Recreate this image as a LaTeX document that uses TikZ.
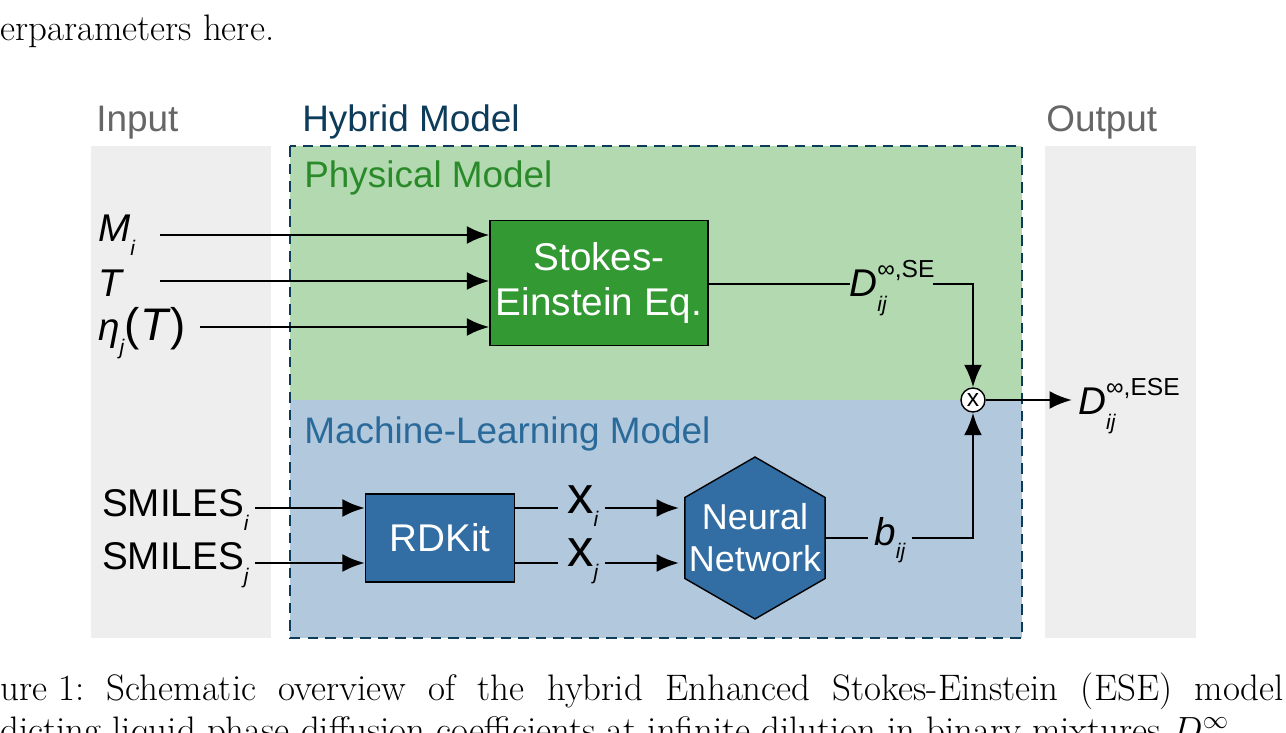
\documentclass[tikz,border=0pt]{standalone}
\usepackage{fontspec}
\setmainfont{Latin Modern Roman}
\newfontfamily\diagfont{Liberation Sans}
\usetikzlibrary{arrows.meta,shapes.geometric,positioning}
\definecolor{hybridblue}{HTML}{0D3B5A}
\definecolor{physgreen}{HTML}{B2D9B0}
\definecolor{mlblue}{HTML}{B2C8DD}
\definecolor{boxgreen}{HTML}{339933}
\definecolor{boxblue}{HTML}{326EA3}
\definecolor{titlegreen}{HTML}{2A8A2A}
\definecolor{titleblue}{HTML}{2A6A9A}
\newcommand{\dsub}[2]{\textit{#1}\raisebox{-0.35em}{\fontsize{12}{12}\selectfont\textit{#2}}}
\newcommand{\dcoef}[1]{\textit{D}\makebox[0pt][l]{\raisebox{-0.4em}{\fontsize{12}{12}\selectfont\textit{ij}}}\raisebox{0.5em}{\fontsize{14}{14}\selectfont ∞,#1}}
\begin{document}
\begin{tikzpicture}[x=0.02cm,y=-0.02cm,
    every node/.style={font=\diagfont\fontsize{22}{26}\selectfont},
    title/.style={anchor=base west, inner sep=0, font=\diagfont\fontsize{21}{25}\selectfont},
    block/.style={draw, thick, rectangle, text=white, align=center},
    arr/.style={-{Latex[length=4.5mm,width=3.6mm]}, line width=1.5pt},
    wire/.style={line width=1.1pt}]
    \useasboundingbox (0,0) rectangle (1286,733);
    % surrounding page text
    \node[anchor=base west, inner sep=0, font=\fontsize{21}{24}\selectfont] at (0,41) {erparameters here.};
    \node[anchor=base west, inner sep=0, font=\fontsize{21}{24}\selectfont] at (0,700)
        {ure 1:\ \ Schematic \ overview \ of \ the \ hybrid \ Enhanced \ Stokes-Einstein \ (ESE) \ model};
    \node[anchor=base west, inner sep=0, font=\fontsize{21}{24}\selectfont] at (0,742)
        {dicting liquid-phase diffusion coefficients at infinite dilution in binary mixtures $D^\infty_{ij}$};

    % background panels
    \fill[gray!13] (91,146) rectangle (271,638);
    \fill[gray!13] (1045,146) rectangle (1196,638);
    \fill[physgreen] (290,146) rectangle (1022,400);
    \fill[mlblue] (290,400) rectangle (1022,638);
    \draw[hybridblue, line width=1.5pt, dash pattern=on 6pt off 4pt] (290,146) rectangle (1022,638);

    % titles
    \node[title, text=gray!80!black] at (96,132) {Input};
    \node[title, text=hybridblue] at (302,132) {Hybrid Model};
    \node[title, text=gray!80!black] at (1046,132) {Output};
    \node[title, text=titlegreen] at (304,188) {Physical Model};
    \node[title, text=titleblue] at (304,443) {Machine-Learning Model};

    % physical model
    \node[block, fill=boxgreen, minimum width=4.28cm, minimum height=2.5cm] (stokes) at (599,283) {Stokes-\\Einstein Eq.};
    \node[anchor=west] (mi) at (92,235) {\dsub{M}{i}};
    \node[anchor=west] (temp) at (92,283) {\textit{T}};
    \node[anchor=west] (eta) at (92,333) {\dsub{η}{j}\fontsize{26}{26}\selectfont(\textit{T})};
    \coordinate (mi0) at (160,235);
    \coordinate (t0) at (160,281);
    \coordinate (eta0) at (200,327);
    \draw[arr] (mi0) -- (mi0 -| stokes.west);
    \draw[arr] (t0) -- (t0 -| stokes.west);
    \draw[arr] (eta0) -- (eta0 -| stokes.west);
    \node (dse) at (892,288) {\dcoef{SE}};
    \node[draw, circle, fill=white, thick, inner sep=0, minimum size=0.48cm, font=\diagfont\fontsize{14}{14}\selectfont] (mult) at (973,400) {x};
    \draw[wire] (stokes.east |- 0,284) -- (850,284);
    \draw[arr] (933,284) -| (mult.north);

    % machine-learning model
    \node[block, fill=boxblue, minimum width=2.98cm, minimum height=1.76cm] (rdkit) at (440,538) {RDKit};
    \node[anchor=west] (smi) at (96,510) {SMILES\raisebox{-0.35em}{\fontsize{12}{12}\selectfont\textit{i}}};
    \node[anchor=west] (smj) at (96,565) {SMILES\raisebox{-0.35em}{\fontsize{12}{12}\selectfont\textit{j}}};
    \coordinate (smi0) at (255,508);
    \coordinate (smj0) at (255,563);
    \draw[arr] (smi0) -- (smi0 -| rdkit.west);
    \draw[arr] (smj0) -- (smj0 -| rdkit.west);
    \node[draw, thick, regular polygon, regular polygon sides=6, shape border rotate=30, minimum size=3.24cm, inner sep=0, fill=boxblue,
        label={[text=white, align=center, font=\diagfont\fontsize{20.5}{24}\selectfont]center:{Neural\\Network}}] (nn) at (755,538) {};
    \node (xi) at (583,506) {\fontsize{30}{30}\selectfont x\raisebox{-0.25em}{\fontsize{12}{12}\selectfont\textit{i}}};
    \node (xj) at (583,561) {\fontsize{30}{30}\selectfont x\raisebox{-0.25em}{\fontsize{12}{12}\selectfont\textit{j}}};
    \draw[wire] (rdkit.east |- 0,508) -- (558,508);
    \draw[wire] (rdkit.east |- 0,563) -- (558,563);
    \draw[arr] (605,508) -- (679,508);
    \draw[arr] (605,563) -- (679,563);
    \node (bij) at (890,540) {\dsub{b}{ij}};
    \draw[wire] (nn.east) -- (bij.west |- nn.east);
    \draw[arr] (bij.east |- nn.east) -| (mult.south);

    % output
    \node[anchor=west] (dese) at (1072,406) {\dcoef{ESE}};
    \draw[arr] (mult.east) -- (mult.east -| dese.west);
\end{tikzpicture}
\end{document}
